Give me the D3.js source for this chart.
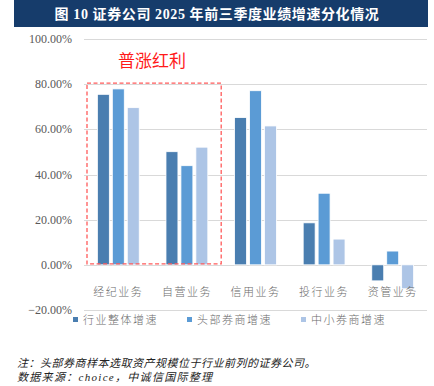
<!DOCTYPE html>
<html>
<head>
<meta charset="utf-8">
<script src="https://cdn.jsdelivr.net/npm/d3@7"></script>
<style>
  body { margin: 0; background: #fff; }
  svg { display: block; }
</style>
</head>
<body>
<div id="content"></div>
<script>
// Canvas size
const width = 434;
const height = 386;

// Data
const categories = ["经纪业务", "自营业务", "信用业务", "投行业务", "资管业务"];
const series = ["行业整体增速", "头部券商增速", "中小券商增速"];
const industry = [75.5, 50.1, 65.2, 18.6, -7.1];
const topBrokers = [77.9, 43.9, 77.1, 31.7, 6.1];
const smallBrokers = [69.6, 52.1, 61.5, 11.4, -10.6];
const yTicks = [-20, 0, 20, 40, 60, 80, 100];
const colors = ["#4a7eb0", "#5b9bd5", "#adc5e6"];

const values = [industry, topBrokers, smallBrokers];

const svg = d3.select("#content")
  .append("svg")
  .attr("width", width)
  .attr("height", height);

// Title bar
svg.append("rect")
  .attr("x", 14).attr("y", 0)
  .attr("width", 414).attr("height", 27)
  .attr("fill", "#163c6b");

svg.append("text")
  .attr("x", 217).attr("y", 19)
  .attr("text-anchor", "middle")
  .attr("fill", "#fff")
  .attr("font-family", "'Liberation Serif', 'Noto Sans CJK SC', serif")
  .attr("font-weight", "bold")
  .attr("font-size", 14)
  .attr("letter-spacing", 0.6)
  .text("图 10  证券公司 2025 年前三季度业绩增速分化情况");

// Scales
const x0 = d3.scaleBand()
  .domain(categories)
  .range([84, 427])
  .paddingInner(0.39)
  .paddingOuter(0.195);

const x1 = d3.scaleBand()
  .domain(series)
  .range([0, x0.bandwidth()])
  .paddingInner(0.2);

const y = d3.scaleLinear()
  .domain([-20, 100])
  .range([310, 39]);

// Gridlines
svg.append("g")
  .selectAll("line")
  .data(yTicks)
  .join("line")
  .attr("x1", 84).attr("x2", 427)
  .attr("y1", d => Math.round(y(d)) + 0.5)
  .attr("y2", d => Math.round(y(d)) + 0.5)
  .attr("stroke", "#d9d9d9")
  .attr("stroke-width", 1);

// Y axis labels
svg.append("g")
  .selectAll("text")
  .data(yTicks)
  .join("text")
  .attr("x", 72)
  .attr("y", d => y(d) + 4)
  .attr("text-anchor", "end")
  .attr("fill", "#595959")
  .attr("font-family", "'Liberation Serif', serif")
  .attr("font-size", 12)
  .text(d => d3.format(".2f")(d) + "%");

// Bars
const rows = categories.map((c, i) => ({ cat: c, vals: series.map((s, j) => ({ s, j, v: values[j][i] })) }));

svg.append("g")
  .selectAll("g")
  .data(rows)
  .join("g")
  .attr("transform", d => `translate(${x0(d.cat)},0)`)
  .selectAll("rect")
  .data(d => d.vals)
  .join("rect")
  .attr("x", d => x1(d.s))
  .attr("width", x1.bandwidth())
  .attr("y", d => y(Math.max(0, d.v)))
  .attr("height", d => Math.abs(y(d.v) - y(0)))
  .attr("fill", d => colors[d.j])
  .attr("stroke", "#fff")
  .attr("stroke-width", 0.8);

// Category labels
svg.append("g")
  .selectAll("text")
  .data(categories)
  .join("text")
  .attr("x", d => x0(d) + x0.bandwidth() / 2)
  .attr("y", 296)
  .attr("text-anchor", "middle")
  .attr("fill", "#6b6b6b")
  .attr("font-family", "'Noto Sans CJK SC', sans-serif")
  .attr("font-weight", 300)
  .attr("font-size", 11)
  .attr("letter-spacing", 1.5)
  .text(d => d);

// Highlight box
const boxLeft = x0.range()[0] + 3;
const boxRight = x0.range()[0] + x0.step() * 2;
svg.append("rect")
  .attr("x", boxLeft)
  .attr("y", y(80) - 1)
  .attr("width", boxRight - boxLeft)
  .attr("height", y(0) - y(80))
  .attr("fill", "none")
  .attr("stroke", "#ff5b5b")
  .attr("stroke-width", 1.3)
  .attr("stroke-dasharray", "4,2.5");

svg.append("text")
  .attr("x", 152).attr("y", 67)
  .attr("text-anchor", "middle")
  .attr("fill", "#ff1a1a")
  .attr("font-family", "'Noto Sans CJK SC', sans-serif")
  .attr("font-size", 17)
  .text("普涨红利");

// Legend
const legendX = [73, 187, 301];
const legend = svg.append("g")
  .selectAll("g")
  .data(series)
  .join("g")
  .attr("transform", (d, i) => `translate(${legendX[i]},320)`);

legend.append("rect")
  .attr("x", 0).attr("y", -3)
  .attr("width", 5).attr("height", 5)
  .attr("fill", (d, i) => colors[i]);

legend.append("text")
  .attr("x", 10).attr("y", 4)
  .attr("fill", "#6b6b6b")
  .attr("font-family", "'Noto Sans CJK SC', sans-serif")
  .attr("font-weight", 300)
  .attr("font-size", 11)
  .attr("letter-spacing", 1.5)
  .text(d => d);

// Notes
const notes = ["注：头部券商样本选取资产规模位于行业前列的证券公司。", "数据来源：choice，中诚信国际整理"];
const noteSpacing = [0.5, 1.3];
svg.append("g")
  .selectAll("text")
  .data(notes)
  .join("text")
  .attr("x", 17)
  .attr("y", (d, i) => 367 + i * 14)
  .attr("fill", "#222")
  .attr("font-family", "'Liberation Serif', 'Noto Sans CJK SC', serif")
  .attr("font-style", "italic")
  .attr("font-size", 11)
  .attr("letter-spacing", (d, i) => noteSpacing[i])
  .text(d => d);
</script>
</body>
</html>
